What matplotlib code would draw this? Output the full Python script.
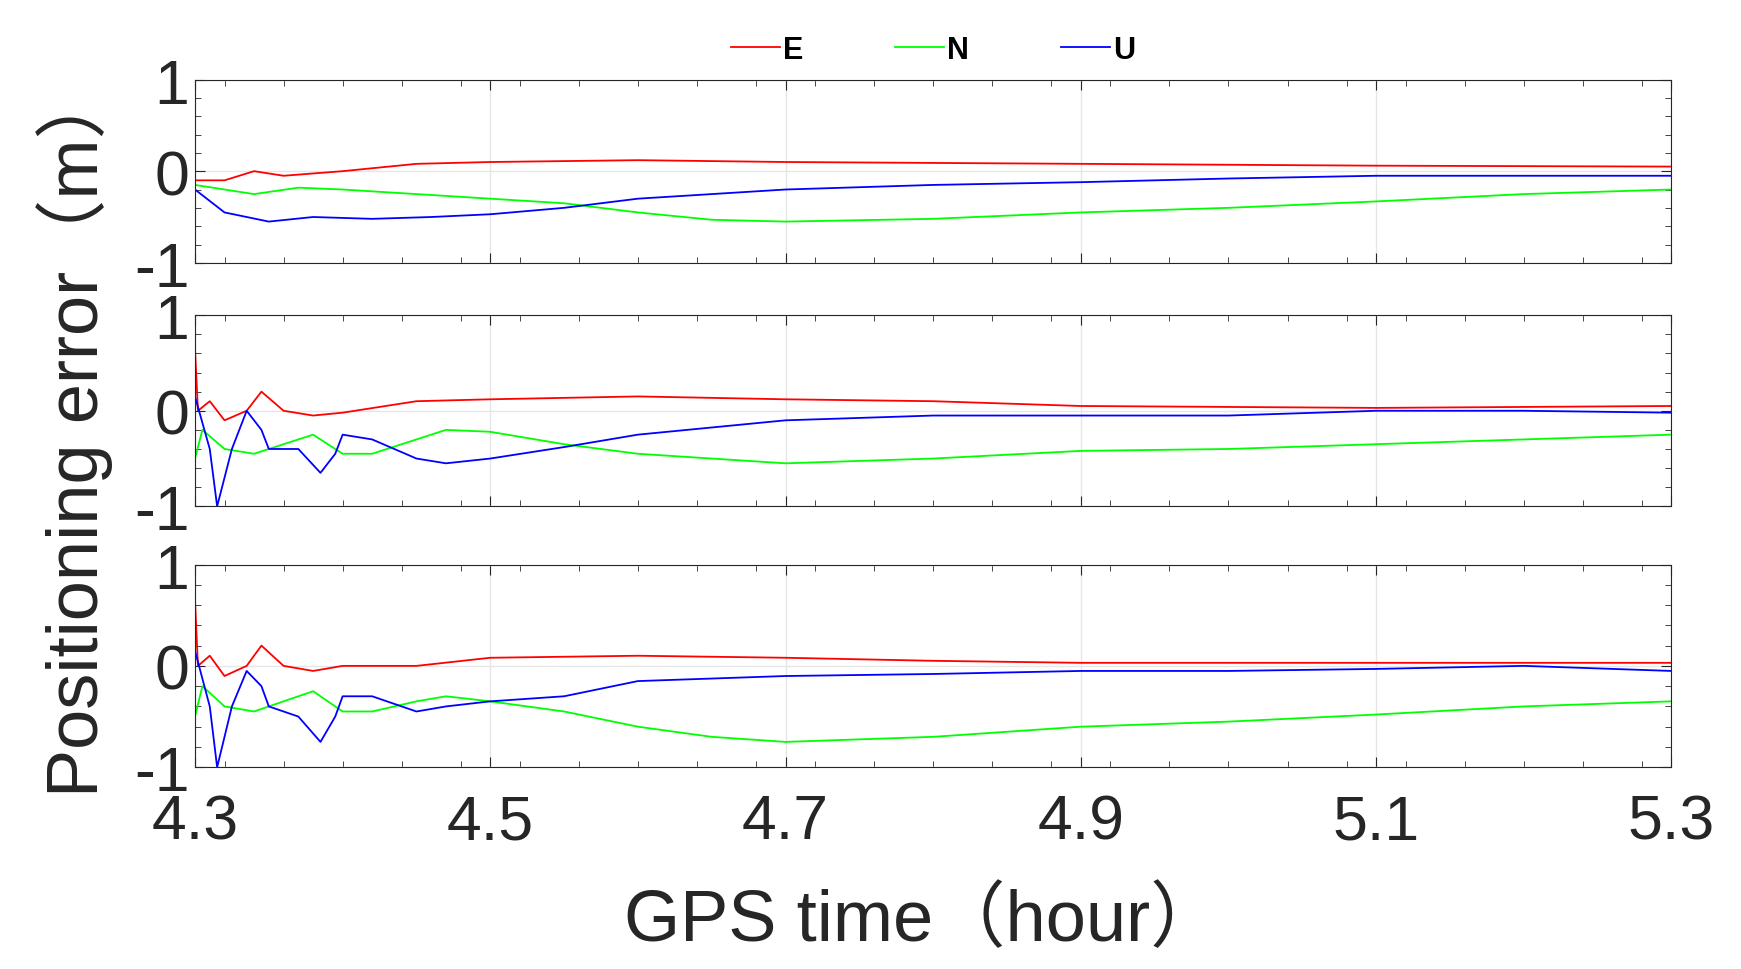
import matplotlib
matplotlib.use('Agg')
import matplotlib.pyplot as plt
from matplotlib.ticker import MultipleLocator

plt.rcParams['font.family'] = ['Liberation Sans', 'Noto Sans CJK SC']
plt.rcParams['axes.unicode_minus'] = False

# panel 1
t1_e = [4.3, 4.32, 4.34, 4.36, 4.4, 4.45, 4.5, 4.6, 4.7, 4.9, 5.1, 5.3]
e1 = [-0.1, -0.1, 0.0, -0.05, 0.0, 0.08, 0.1, 0.12, 0.1, 0.08, 0.06, 0.05]
t1_n = [4.3, 4.34, 4.37, 4.4, 4.45, 4.5, 4.55, 4.6, 4.65, 4.7, 4.8, 4.9, 5.0, 5.1, 5.2, 5.3]
n1 = [-0.15, -0.25, -0.18, -0.2, -0.25, -0.3, -0.35, -0.45, -0.53, -0.55, -0.52, -0.45, -0.4, -0.33, -0.25, -0.2]
t1_u = [4.3, 4.32, 4.35, 4.38, 4.42, 4.46, 4.5, 4.55, 4.6, 4.7, 4.8, 4.9, 5.0, 5.1, 5.2, 5.3]
u1 = [-0.2, -0.45, -0.55, -0.5, -0.52, -0.5, -0.47, -0.4, -0.3, -0.2, -0.15, -0.12, -0.08, -0.05, -0.05, -0.05]

# panel 2
t2_e = [4.3, 4.302, 4.31, 4.32, 4.335, 4.345, 4.36, 4.38, 4.4, 4.45, 4.5, 4.6, 4.7, 4.8, 4.9, 5.1, 5.3]
e2 = [0.65, 0.0, 0.1, -0.1, 0.0, 0.2, 0.0, -0.05, -0.02, 0.1, 0.12, 0.15, 0.12, 0.1, 0.05, 0.03, 0.05]
t2_n = [4.3, 4.305, 4.32, 4.34, 4.36, 4.38, 4.4, 4.42, 4.45, 4.47, 4.5, 4.55, 4.6, 4.7, 4.8, 4.9, 5.0, 5.1, 5.2, 5.3]
n2 = [-0.5, -0.2, -0.4, -0.45, -0.35, -0.25, -0.45, -0.45, -0.3, -0.2, -0.22, -0.35, -0.45, -0.55, -0.5, -0.42, -0.4, -0.35, -0.3, -0.25]
t2_u = [4.3, 4.31, 4.315, 4.325, 4.335, 4.345, 4.35, 4.37, 4.385, 4.395, 4.4, 4.42, 4.45, 4.47, 4.5, 4.55, 4.6, 4.7, 4.8, 4.9, 5.0, 5.1, 5.2, 5.3]
u2 = [0.15, -0.4, -1.0, -0.4, 0.0, -0.2, -0.4, -0.4, -0.65, -0.45, -0.25, -0.3, -0.5, -0.55, -0.5, -0.38, -0.25, -0.1, -0.05, -0.05, -0.05, 0.0, 0.0, -0.02]

# panel 3
t3_e = [4.3, 4.302, 4.31, 4.32, 4.335, 4.345, 4.36, 4.38, 4.4, 4.45, 4.5, 4.6, 4.7, 4.8, 4.9, 5.1, 5.3]
e3 = [0.65, 0.0, 0.1, -0.1, 0.0, 0.2, 0.0, -0.05, 0.0, 0.0, 0.08, 0.1, 0.08, 0.05, 0.03, 0.03, 0.03]
t3_n = [4.3, 4.305, 4.32, 4.34, 4.36, 4.38, 4.4, 4.42, 4.45, 4.47, 4.5, 4.55, 4.6, 4.65, 4.7, 4.8, 4.9, 5.0, 5.1, 5.2, 5.3]
n3 = [-0.5, -0.2, -0.4, -0.45, -0.35, -0.25, -0.45, -0.45, -0.35, -0.3, -0.35, -0.45, -0.6, -0.7, -0.75, -0.7, -0.6, -0.55, -0.48, -0.4, -0.35]
t3_u = [4.3, 4.31, 4.315, 4.325, 4.335, 4.345, 4.35, 4.37, 4.385, 4.395, 4.4, 4.42, 4.45, 4.47, 4.5, 4.55, 4.6, 4.7, 4.8, 4.9, 5.0, 5.1, 5.2, 5.3]
u3 = [0.15, -0.4, -1.0, -0.4, -0.05, -0.2, -0.4, -0.5, -0.75, -0.5, -0.3, -0.3, -0.45, -0.4, -0.35, -0.3, -0.15, -0.1, -0.08, -0.05, -0.05, -0.03, 0.0, -0.05]

panels = [((t1_e, e1), (t1_n, n1), (t1_u, u1)),
          ((t2_e, e2), (t2_n, n2), (t2_u, u2)),
          ((t3_e, e3), (t3_n, n3), (t3_u, u3))]
labels = ['E', 'N', 'U']
colors = ['#ff0000', '#00ff00', '#0000ff']
xticks = [4.3, 4.5, 4.7, 4.9, 5.1, 5.3]

fig = plt.figure(figsize=(17.41, 9.70), dpi=100)
boxes = [(0.728, 0.917), (0.477, 0.674), (0.208, 0.417)]
axes = []
for (b, t), data in zip(boxes, panels):
    ax = fig.add_axes([0.112, b, 0.848, t - b])
    for (x, y), lab, c in zip(data, labels, colors):
        ax.plot(x, y, color=c, lw=1.3, label=lab)
    ax.set_xlim(4.3, 5.3)
    ax.set_ylim(-1, 1)
    ax.set_yticks([-1, 0, 1])
    ax.set_xticks(xticks)
    ax.yaxis.set_minor_locator(MultipleLocator(0.2))
    ax.xaxis.set_minor_locator(MultipleLocator(0.04))
    ax.grid(True, which='major', color='#e6e6e6', lw=1)
    ax.tick_params(which='both', direction='in', top=True, right=True, labelsize=45, colors='#262626')
    ax.tick_params(which='major', length=7)
    ax.tick_params(which='minor', length=4)
    ax.tick_params(axis='y', pad=4)
    for s in ax.spines.values():
        s.set_color('#262626')
    axes.append(ax)

for ax in axes[:2]:
    ax.set_xticklabels([])
axes[2].set_xticklabels(['4.3', '4.5', '4.7', '4.9', '5.1', '5.3'])
axes[2].tick_params(axis='x', pad=18)

fig.text(0.53, 0.05, 'GPS time（hour）', fontsize=52, color='#262626', ha='center', va='center')
fig.text(0.043, 0.555, 'Positioning error（m）', rotation=90, fontsize=52,
         color='#262626', ha='center', va='center')

axes[0].legend(loc='lower center', bbox_to_anchor=(0.5, 0.93), ncol=3, frameon=False,
               prop={'weight': 'bold', 'size': 22}, handlelength=1.6, handletextpad=0.1,
               columnspacing=3.0)

fig.savefig('out.png', dpi=100)
